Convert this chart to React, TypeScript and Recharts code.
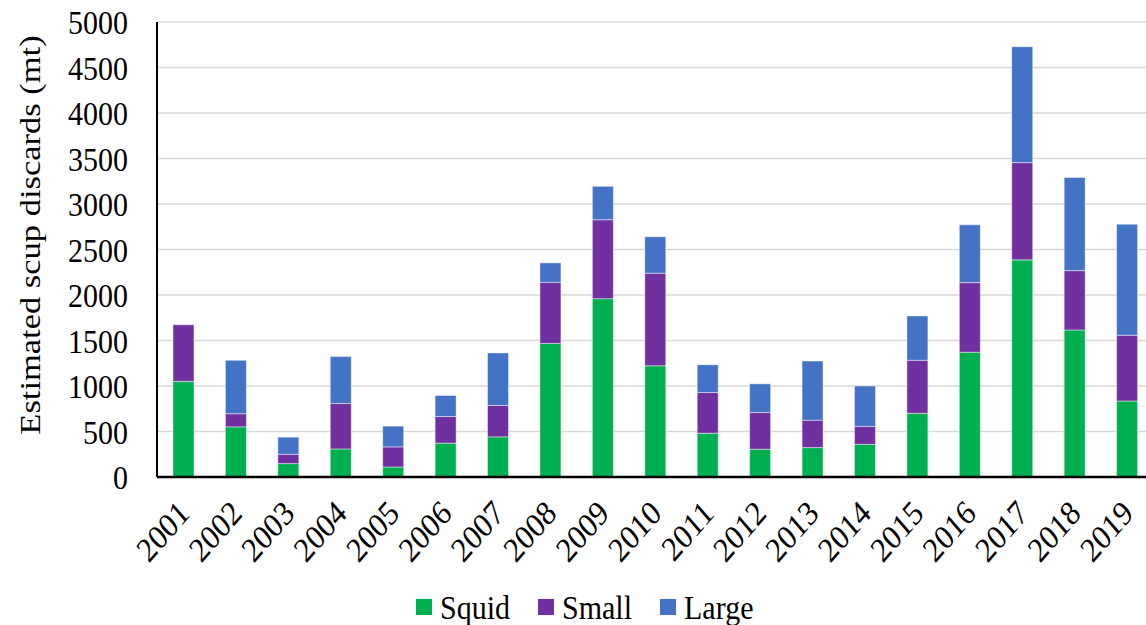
import React from 'react';
import { BarChart, Bar, XAxis, YAxis, CartesianGrid, Legend } from 'recharts';

const years = ['2001', '2002', '2003', '2004', '2005', '2006', '2007', '2008', '2009', '2010',
  '2011', '2012', '2013', '2014', '2015', '2016', '2017', '2018', '2019'];

// discards by fishery / size class (mt)
const squid = [1051, 551, 147, 309, 110, 372, 441, 1468, 1960, 1222, 481, 305, 323, 359, 700, 1371, 2386, 1616, 835];
const small = [622, 144, 103, 499, 221, 293, 345, 672, 867, 1017, 447, 403, 301, 198, 583, 765, 1069, 652, 723];
const large = [0, 587, 188, 515, 228, 231, 578, 213, 367, 401, 305, 316, 650, 443, 487, 635, 1273, 1023, 1220];

const yTicks = [0, 500, 1000, 1500, 2000, 2500, 3000, 3500, 4000, 4500, 5000];

const series = [
  { key: 'Squid', color: '#00B050' },
  { key: 'Small', color: '#7030A0' },
  { key: 'Large', color: '#4472C4' },
];

const data = years.map((year, i) => ({
  year,
  Squid: squid[i],
  Small: small[i],
  Large: large[i],
}));

const FONT = '"Liberation Serif", "Times New Roman", serif';
// glyphs are drawn a little taller than wide
const STRETCH = 1.15;

const YearTick = ({ x, y, payload }: any) => (
  <g transform={`translate(${x + 8},${y + 38}) scale(1,${STRETCH}) rotate(-45)`}>
    <text textAnchor="end" fontFamily={FONT} fontSize={30} fill="#000">
      {payload.value}
    </text>
  </g>
);

const ValueTick = ({ x, y, payload }: any) => (
  <g transform={`translate(${x},${y}) scale(1,${STRETCH})`}>
    <text textAnchor="end" dy="0.355em" fontFamily={FONT} fontSize={30} fill="#000">
      {payload.value}
    </text>
  </g>
);

const renderLegend = () => (
  <div
    style={{
      display: 'flex',
      alignItems: 'center',
      fontFamily: FONT,
      fontSize: 30,
      color: '#000',
      transform: `scaleY(${STRETCH})`,
    }}
  >
    {series.map((s) => (
      <div key={s.key} style={{ display: 'flex', alignItems: 'center', marginRight: 28 }}>
        <span style={{ width: 16, height: 14, background: s.color, display: 'inline-block', marginRight: 8 }} />
        <span>{s.key}</span>
      </div>
    ))}
  </div>
);

const App: React.FC = () => {
  return (
    <div style={{ position: 'fixed', left: 0, top: 0, width: 1146, height: 625, overflow: 'hidden', background: '#fff' }}>
      <BarChart
        width={1160}
        height={625}
        data={data}
        margin={{ top: 22, right: 7, left: 0, bottom: 0 }}
      >
        <CartesianGrid vertical={false} stroke="#d9d9d9" strokeWidth={1.5} />
        <XAxis
          dataKey="year"
          tickLine={false}
          tickSize={0}
          tickMargin={0}
          axisLine={{ stroke: '#000', strokeWidth: 2.5 }}
          height={148}
          tick={<YearTick />}
          interval={0}
        />
        <YAxis
          width={157}
          domain={[0, 5000]}
          ticks={yTicks}
          tickLine={false}
          tickSize={0}
          tickMargin={29}
          axisLine={{ stroke: '#000', strokeWidth: 2 }}
          tick={<ValueTick />}
          label={(
            <g transform={`translate(30,235) scale(1,${STRETCH}) rotate(-90)`}>
              <text
                textAnchor="middle"
                dominantBaseline="central"
                fontFamily={FONT}
                fontSize={30}
                fill="#000"
              >
                Estimated scup discards (mt)
              </text>
            </g>
          )}
        />
        <Legend
          verticalAlign="middle"
          align="center"
          content={renderLegend}
          wrapperStyle={{ top: 590, left: 416, width: 500 }}
        />
        {series.map((s) => (
          <Bar
            key={s.key}
            dataKey={s.key}
            stackId="a"
            fill={s.color}
            barSize={21}
            stroke="#ffffff"
            strokeOpacity={0.45}
            strokeWidth={1}
            isAnimationActive={false}
          />
        ))}
      </BarChart>
    </div>
  );
};

export default App;
